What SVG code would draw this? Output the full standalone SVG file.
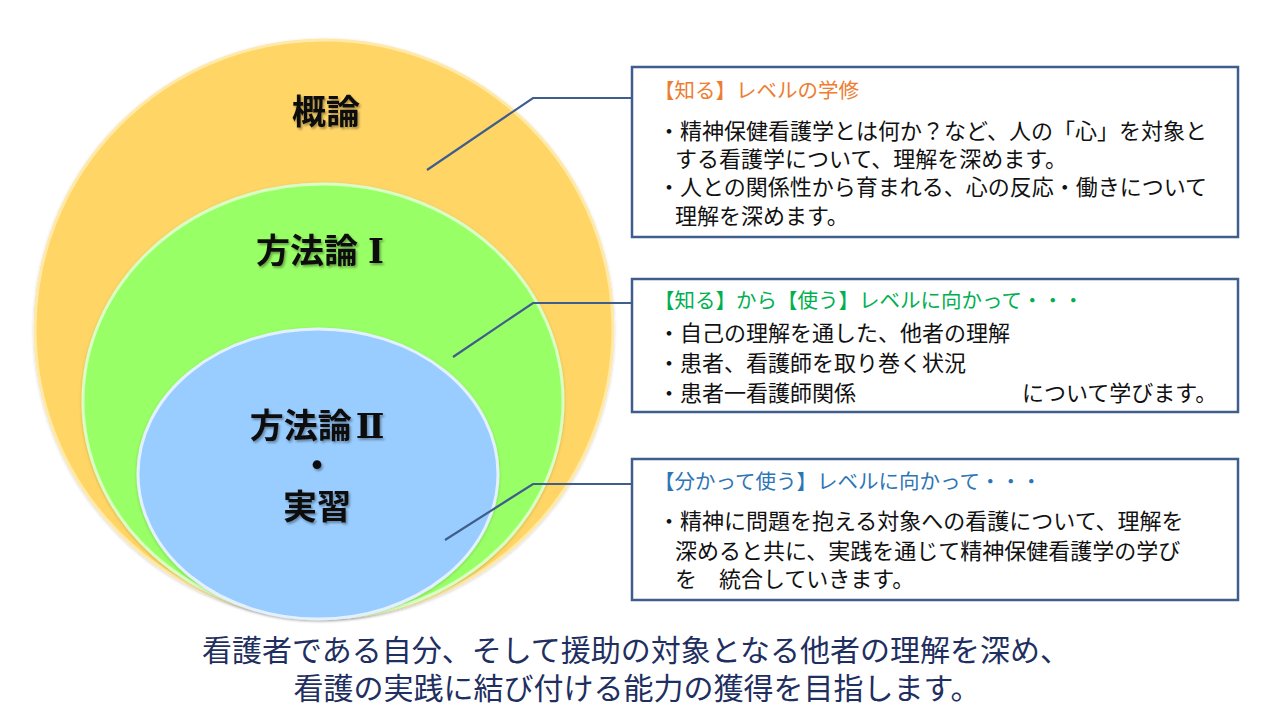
<svg xmlns="http://www.w3.org/2000/svg" width="1280" height="720" viewBox="0 0 1280 720">
<defs>
<style>
.lbl{font-family:"Noto Sans CJK JP","Noto Sans CJK SC",sans-serif;font-weight:700;font-size:34px;fill:#111;text-anchor:middle}
.rn{font-family:"DejaVu Serif","Liberation Serif","Noto Sans CJK JP",serif;font-weight:700}
.ttl{font-family:"Noto Sans CJK JP",sans-serif;font-size:20.5px}
.body{font-family:"Noto Sans CJK JP",sans-serif;font-size:22px;fill:#111}
.box{fill:#fff;stroke:#3F5E8E;stroke-width:2.5}
.con{fill:none;stroke:#3F5E8E;stroke-width:2.2}
.foot{font-family:"Noto Sans CJK JP",sans-serif;font-size:30px;fill:#1F2F5F;text-anchor:middle}
</style>
<filter id="ts" x="-20%" y="-20%" width="140%" height="150%">
<feDropShadow dx="1.5" dy="2" stdDeviation="1.2" flood-color="#000" flood-opacity="0.35"/>
</filter>
<filter id="cs" x="-10%" y="-10%" width="120%" height="120%">
<feDropShadow dx="0" dy="1" stdDeviation="1.5" flood-color="#000" flood-opacity="0.18"/>
</filter>
</defs>
<rect width="1280" height="720" fill="#fff"/>

<g id="circle-gairon">
<circle cx="324" cy="329" r="289" fill="#FFD566" stroke="#FFE9A8" stroke-width="3" filter="url(#cs)"/>
<text class="lbl" x="326" y="124" filter="url(#ts)">概論</text>
</g>
<g id="circle-houhou1">
<ellipse cx="323" cy="401" rx="240" ry="217" fill="#99FF66" stroke="#D8FFC4" stroke-width="3" filter="url(#cs)"/>
<text class="lbl" x="320" y="263" filter="url(#ts)">方法論<tspan class="rn" dx="10">Ⅰ</tspan></text>
</g>
<g id="circle-houhou2">
<ellipse cx="318" cy="474" rx="180" ry="145" fill="#99CCFF" stroke="#E3F1FF" stroke-width="3" filter="url(#cs)"/>
<text class="lbl" x="317" y="438" filter="url(#ts)">方法論<tspan class="rn" dx="4">Ⅱ</tspan></text>
<text class="lbl" x="317" y="478" filter="url(#ts)">・</text>
<text class="lbl" x="317" y="519" filter="url(#ts)">実習</text>
</g>

<g id="connectors">
<polyline class="con" points="427,170 533,98 632,98"/>
<polyline class="con" points="453,357 533,303 632,303"/>
<polyline class="con" points="445,540 533,484 632,484"/>
</g>

<g id="box-shiru">
<rect class="box" x="632" y="67" width="606" height="170"/>
<text class="ttl" x="654" y="98" fill="#ED7D31">【知る】レベルの学修</text>
<text class="body" x="658" y="139">・精神保健看護学とは何か？など、人の「心」を対象と</text>
<text class="body" x="675" y="167">する看護学について、理解を深めます。</text>
<text class="body" x="658" y="195">・人との関係性から育まれる、心の反応・働きについて</text>
<text class="body" x="675" y="224">理解を深めます。</text>
</g>

<g id="box-tsukau">
<rect class="box" x="632" y="279" width="606" height="133"/>
<text class="ttl" x="654" y="308" fill="#00B050">【知る】から【使う】レベルに向かって・・・</text>
<text class="body" x="658" y="341">・自己の理解を通した、他者の理解</text>
<text class="body" x="658" y="371">・患者、看護師を取り巻く状況</text>
<text class="body" x="658" y="401">・患者一看護師関係</text>
<text class="body" x="1022" y="401">について学びます。</text>
</g>

<g id="box-wakatte">
<rect class="box" x="632" y="459" width="606" height="141"/>
<text class="ttl" x="654" y="489" fill="#2E75B6">【分かって使う】レベルに向かって・・・</text>
<text class="body" x="658" y="529">・精神に問題を抱える対象への看護について、理解を</text>
<text class="body" x="675" y="559">深めると共に、実践を通じて精神保健看護学の学び</text>
<text class="body" x="675" y="587">を　統合していきます。</text>
</g>

<g id="footer">
<text class="foot" x="636" y="661">看護者である自分、そして援助の対象となる他者の理解を深め、</text>
<text class="foot" x="637" y="699">看護の実践に結び付ける能力の獲得を目指します。</text>
</g>
</svg>
